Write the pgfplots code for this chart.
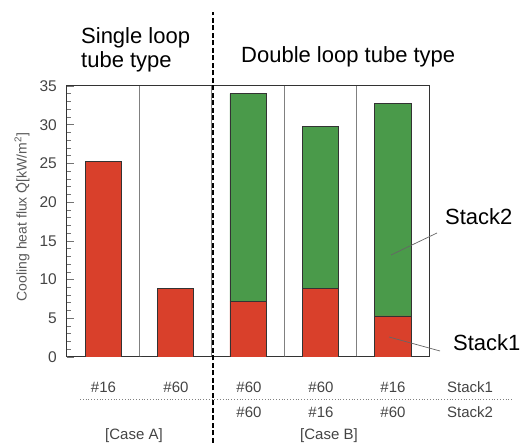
\documentclass[border=0pt]{standalone}
\usepackage{fontspec}
\setmainfont{Liberation Sans}
\usepackage{pgfplots}
\pgfplotsset{compat=1.18}
\definecolor{redc}{HTML}{D9402B}
\definecolor{greenc}{HTML}{4A9A4A}
\definecolor{txtgray}{HTML}{444444}
\definecolor{framec}{HTML}{333333}
\newcommand{\Qdot}{\ooalign{Q\cr\hidewidth\raisebox{0.62em}{\textbf{.}}\hidewidth\cr}}
\begin{document}
\begin{tikzpicture}[x=1pt,y=1pt]
\path[use as bounding box] (0,0) rectangle (520,443);
\begin{axis}[
  at={(67pt,86pt)}, anchor=south west,
  scale only axis, width=362pt, height=271pt,
  xmin=-0.5, xmax=4.5, ymin=0, ymax=35,
  ytick={0,5,...,35}, minor y tick num=4,
  xtick={0.5,1.5,2.5,3.5}, xticklabels={},
  xmajorgrids, major x grid style={draw=black!50, line width=0.8pt},
  x tick style={draw=none},
  tick align=inside, major tick length=7pt, minor tick length=4pt,
  ytick pos=left,
  y tick style={draw=black!55, line width=0.6pt},
  axis line style={draw=framec, line width=1pt},
  ybar stacked, bar width=0.5,
  /pgf/number format/assume math mode=true,
  yticklabel style={font=\fontsize{15.5}{18}\selectfont, text=txtgray, inner sep=0pt, xshift=-10pt},
]
\addplot[fill=redc, draw=framec, line width=0.8pt] coordinates {(0,25.2) (1,8.9) (2,7.2) (3,8.9) (4,5.3)};
\addplot[fill=greenc, draw=framec, line width=0.8pt] coordinates {(0,0) (1,0) (2,26.8) (3,20.9) (4,27.5)};
\pgfplotsinvokeforeach{-0.5,0.5,2.5,3.5,4.5}{
  \draw[black!50, line width=0.8pt] (axis cs:#1,0) -- ++(0,-7pt);
}
\end{axis}
% dashed separator
\draw[black, line width=2.4pt, dash pattern=on 5pt off 2.5pt] (213,0) -- (213,431);
% titles
\node[anchor=base west, inner sep=0pt, font=\fontsize{22}{26}\selectfont] at (81,399) {Single loop};
\node[anchor=base west, inner sep=0pt, font=\fontsize{22}{26}\selectfont] at (81,375) {tube type};
\node[anchor=base west, inner sep=0pt, font=\fontsize{22}{26}\selectfont] at (241,380) {Double loop tube type};
% y label
\node[rotate=90, inner sep=0pt, text=black!65, font=\fontsize{14}{16}\selectfont] at (22,226) {Cooling heat flux \Qdot[kW/m\textsuperscript{2}]};
% annotations
\draw[black!60, line width=0.7pt] (437,210) -- (391,188);
\draw[black!60, line width=0.7pt] (440,92) -- (389,106);
\node[anchor=west, inner sep=0pt, font=\fontsize{22}{26}\selectfont] at (445,226) {Stack2};
\node[anchor=west, inner sep=0pt, font=\fontsize{22}{26}\selectfont] at (453,100) {Stack1};
% bottom table
\begin{scope}[every node/.style={anchor=base, inner sep=0pt, text=txtgray, font=\fontsize{15}{18}\selectfont}]
\node at (103.5,50) {\#16};
\node at (176,50) {\#60};
\node at (249,50) {\#60};
\node at (321,50) {\#60};
\node at (393,50) {\#16};
\node[anchor=base west] at (447,50) {Stack1};
\node at (249,25) {\#60};
\node at (321,25) {\#16};
\node at (393,25) {\#60};
\node[anchor=base west] at (447,25) {Stack2};
\node at (134,3) {[Case A]};
\node at (329,3) {[Case B]};
\end{scope}
\draw[black!50, line width=0.8pt, dotted] (80,44) -- (513,44);
\end{tikzpicture}
\end{document}
